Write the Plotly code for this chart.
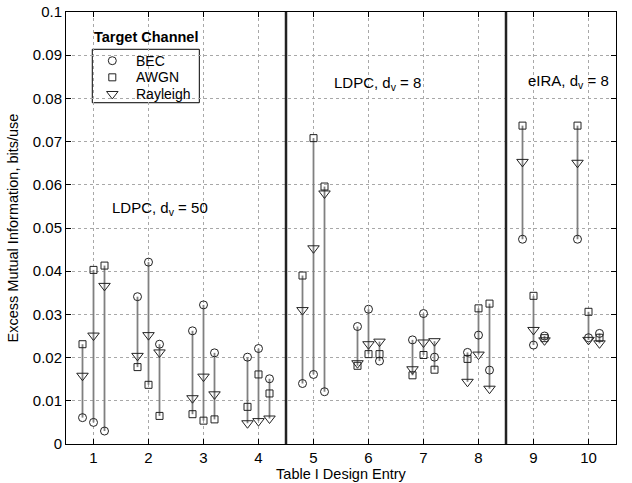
import plotly.graph_objects as go

# Design entries (Table I) and three designs per entry (offsets within group)
entries = [1, 2, 3, 4, 5, 6, 7, 8, 9, 10]
design_offsets = [-0.2, 0.0, 0.2]

# Excess mutual information (bits/use), per entry, per design (3 each)
bec = [0.0061, 0.0050, 0.0030,
       0.0341, 0.0421, 0.0231,
       0.0262, 0.0322, 0.0211,
       0.0201, 0.0221, 0.0151,
       0.0140, 0.0161, 0.0121,
       0.0272, 0.0312, 0.0192,
       0.0241, 0.0302, 0.0201,
       0.0212, 0.0252, 0.0171,
       0.0474, 0.0229, 0.0250,
       0.0474, 0.0246, 0.0256]
awgn = [0.0231, 0.0403, 0.0413,
        0.0178, 0.0137, 0.0065,
        0.0069, 0.0054, 0.0057,
        0.0086, 0.0161, 0.0117,
        0.0390, 0.0708, 0.0596,
        0.0181, 0.0208, 0.0208,
        0.0159, 0.0206, 0.0172,
        0.0197, 0.0314, 0.0325,
        0.0737, 0.0343, 0.0245,
        0.0737, 0.0306, 0.0246]
rayleigh = [0.0158, 0.0251, 0.0366,
            0.0204, 0.0252, 0.0212,
            0.0106, 0.0156, 0.0115,
            0.0048, 0.0053, 0.0059,
            0.0310, 0.0453, 0.0580,
            0.0187, 0.0231, 0.0237,
            0.0173, 0.0235, 0.0238,
            0.0144, 0.0207, 0.0128,
            0.0653, 0.0264, 0.0240,
            0.0651, 0.0241, 0.0233]

channel_names = ["BEC", "AWGN", "Rayleigh"]
channel_symbols = ["circle-open", "square-open", "triangle-down-open"]
channel_sizes = [8, 7, 10]

separators = [4.5, 8.5]
y_ticks = [0, 0.01, 0.02, 0.03, 0.04, 0.05, 0.06, 0.07, 0.08, 0.09, 0.1]
y_tick_labels = ["0", "0.01", "0.02", "0.03", "0.04", "0.05", "0.06", "0.07", "0.08", "0.09", "0.1"]
group_labels = ["LDPC, d<sub>v</sub> = 50", "LDPC, d<sub>v</sub> = 8", "eIRA, d<sub>v</sub> = 8"]
group_label_pos = [(1.30, 0.0545), (5.34, 0.0834), (8.86, 0.0838)]

xs = [e + o for e in entries for o in design_offsets]

# vertical connecting lines (min to max of the three channel values)
lx, ly = [], []
for x, a, b, c in zip(xs, bec, awgn, rayleigh):
    lx += [x, x, None]
    ly += [min(a, b, c), max(a, b, c), None]

FONT = "Liberation Sans, Arial, Helvetica, sans-serif"
mk_col = "#222222"
fig = go.Figure()
fig.add_trace(go.Scatter(x=lx, y=ly, mode="lines", showlegend=False,
                         line=dict(color="#808080", width=1.8), hoverinfo="skip"))
for name, vals, sym, sz in zip(channel_names, [bec, awgn, rayleigh], channel_symbols, channel_sizes):
    fig.add_trace(go.Scatter(x=xs, y=vals, mode="markers", name=name, showlegend=False,
                             marker=dict(symbol=sym, size=sz, color=mk_col, line=dict(width=1, color=mk_col))))

# Legend (box, title, symbols, labels) in an overlay 0..1 frame matching the plot area
leg_x0, leg_x1, leg_y0, leg_y1 = 0.0478, 0.2424, 0.790, 0.9137
leg_rows = [0.8873, 0.8488, 0.8102]
leg_sym_x = 0.0842
leg_txt_x = 0.124
fig.add_shape(type="rect", xref="paper", yref="paper", x0=leg_x0, x1=leg_x1, y0=leg_y0, y1=leg_y1,
              line=dict(color="black", width=1), fillcolor="white", layer="between")
for name, sym, sz, ry in zip(channel_names, channel_symbols, channel_sizes, leg_rows):
    fig.add_trace(go.Scatter(x=[leg_sym_x], y=[ry], xaxis="x2", yaxis="y2", mode="markers",
                             showlegend=False, hoverinfo="skip",
                             marker=dict(symbol=sym, size=sz, color=mk_col, line=dict(width=1, color=mk_col))))
    fig.add_annotation(x=leg_txt_x, y=ry, xref="paper", yref="paper", text=name, showarrow=False,
                       xanchor="left", yanchor="middle", font=dict(size=14, color="black", family=FONT))
fig.add_annotation(x=(leg_x0 + leg_x1) / 2, y=0.9421, xref="paper", yref="paper", text="<b>Target Channel</b>",
                   showarrow=False, xanchor="center", yanchor="middle",
                   font=dict(size=14.5, color="black", family=FONT))

for s in separators:
    fig.add_shape(type="line", x0=s, x1=s, y0=0, y1=0.1, xref="x", yref="y",
                  line=dict(color="#222222", width=2.5))

for txt, (px, py) in zip(group_labels, group_label_pos):
    fig.add_annotation(x=px, y=py, text=txt, showarrow=False, xanchor="left", yanchor="middle",
                       font=dict(size=15, color="black", family=FONT))

axis_common = dict(showline=True, linecolor="black", linewidth=1, mirror="ticks",
                   ticks="inside", ticklen=5, tickcolor="black", automargin=False,
                   ticklabeloverflow="allow",
                   showgrid=True, gridcolor="#a8a8a8", griddash="dot", gridwidth=1,
                   zeroline=False, tickfont=dict(size=15, color="black", family=FONT))

fig.update_layout(
    width=632, height=483,
    margin=dict(l=66, r=16, t=12, b=39),
    paper_bgcolor="white", plot_bgcolor="white",
    font=dict(family=FONT, color="black"),
    showlegend=False,
    xaxis=dict(range=[0.5, 10.5], tickvals=entries, ticktext=[str(e) for e in entries],
               title=dict(text="Table I Design Entry", font=dict(size=14.5, family=FONT), standoff=0),
               **axis_common),
    yaxis=dict(range=[0, 0.1], tickvals=y_ticks, ticktext=y_tick_labels,
               title=dict(text="Excess Mutual Information, bits/use", font=dict(size=14.5, family=FONT), standoff=10),
               **axis_common),
    xaxis2=dict(overlaying="x", range=[0, 1], visible=False, fixedrange=True),
    yaxis2=dict(overlaying="y", range=[0, 1], visible=False, fixedrange=True),
)

# remove the default 8px page margin so the 632x483 figure fills the window exactly
fig.write_html("out.html", config={"displayModeBar": False},
               post_script="document.body.style.margin='0px';")
